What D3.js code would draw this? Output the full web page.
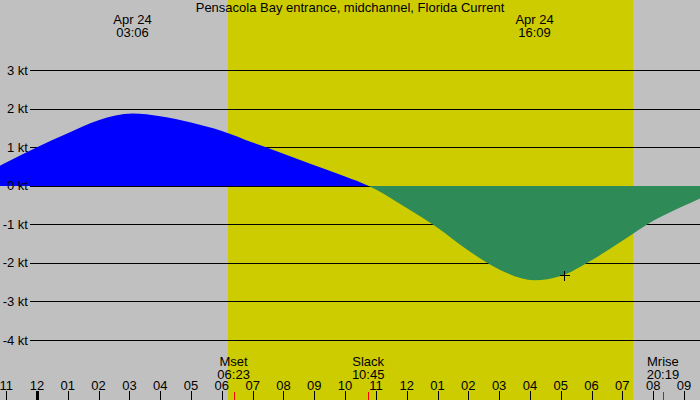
<!DOCTYPE html>
<html>
<head>
<meta charset="utf-8">
<script src="https://cdn.jsdelivr.net/npm/d3@7"></script>
<style>
  body { margin: 0; background: #fff; }
  svg { display: block; }
  text { font-family: "Liberation Sans", Arial, sans-serif; font-size: 13px; fill: #000; }
</style>
</head>
<body>
<div id="chart"></div>
<script>
// Tidal current readings, hours after midnight Apr 24 (negative = previous day)
const hours  = [-1.2, -1, 0, 1, 2, 3.1, 4, 5, 6, 7, 8, 9, 10, 10.75, 11, 12, 13, 14, 15, 16.15, 17, 18, 19, 20, 21, 21.52];
const speeds = [0.52, 0.6, 1.0, 1.36, 1.70, 1.87, 1.80, 1.64, 1.42, 1.12, 0.83, 0.53, 0.24, 0, -0.1, -0.58, -1.09, -1.68, -2.17, -2.45, -2.34, -1.93, -1.43, -0.91, -0.52, -0.33];

const knotTicks = [-4, -3, -2, -1, 0, 1, 2, 3];
const hourTicks = [-1, 0, 1, 2, 3, 4, 5, 6, 7, 8, 9, 10, 11, 12, 13, 14, 15, 16, 17, 18, 19, 20, 21];
const hourLabels = ['11', '12', '01', '02', '03', '04', '05', '06', '07', '08', '09', '10',
                    '11', '12', '01', '02', '03', '04', '05', '06', '07', '08', '09'];

const sunrise = 6.2;
const sunset = 19.35;

// max / min current labels at top
const peakTimes  = [3.1, 16.15];
const peakLabels = [['Apr 24', '03:06'], ['Apr 24', '16:09']];

// events at the bottom (moon set, slack, moon rise)
const eventTimes  = [6.383, 10.75, 20.317];
const eventLabels = [['Mset', '06:23'], ['Slack', '10:45'], ['Mrise', '20:19']];

// "now" marker
const nowTime = 17.12;
const nowSpeed = -2.31;

const title = 'Pensacola Bay entrance, midchannel, Florida Current';

const W = 700, H = 400;

const x = d3.scaleLinear().domain([-1.2, 21.52]).range([0, W]);
const y = d3.scaleLinear().domain([-4, 3]).range([340, 70]);
const zeroY = Math.round(y(0));

const svg = d3.select('#chart').append('svg')
    .attr('width', W)
    .attr('height', H);

// night background + daylight band
svg.append('rect')
    .attr('width', W).attr('height', H)
    .attr('fill', '#c0c0c0');
svg.append('rect')
    .attr('x', x(sunrise)).attr('y', 0)
    .attr('width', x(sunset) - x(sunrise)).attr('height', H)
    .attr('fill', '#cccc00');

// horizontal grid
svg.append('g')
    .selectAll('line')
    .data(knotTicks)
    .join('line')
    .attr('x1', 30).attr('x2', W)
    .attr('y1', d => Math.round(y(d)) + 0.5)
    .attr('y2', d => Math.round(y(d)) + 0.5)
    .attr('stroke', '#000')
    .attr('stroke-width', 1)
    .attr('shape-rendering', 'crispEdges');

// current area, split into flood (blue) and ebb (green) by clipping at zero
const pts = hours.map((h, i) => [h, speeds[i]]);
const area = d3.area()
    .x(d => x(d[0]))
    .y0(zeroY)
    .y1(d => y(d[1]))
    .curve(d3.curveMonotoneX);

const defs = svg.append('defs');
defs.append('clipPath').attr('id', 'clip-flood')
    .append('rect').attr('x', 0).attr('y', 0).attr('width', W).attr('height', zeroY);
defs.append('clipPath').attr('id', 'clip-ebb')
    .append('rect').attr('x', 0).attr('y', zeroY).attr('width', W).attr('height', H - zeroY);

svg.append('path')
    .datum(pts)
    .attr('d', area)
    .attr('fill', '#2e8b57')
    .attr('clip-path', 'url(#clip-ebb)');
svg.append('path')
    .datum(pts)
    .attr('d', area)
    .attr('fill', '#0000ff')
    .attr('clip-path', 'url(#clip-flood)');

// y labels
svg.append('g')
    .selectAll('text')
    .data(knotTicks)
    .join('text')
    .attr('x', 28)
    .attr('y', d => y(d))
    .attr('dy', '0.35em')
    .attr('text-anchor', 'end')
    .text(d => d + ' kt');

// title
svg.append('text')
    .attr('x', W / 2).attr('y', 12)
    .attr('text-anchor', 'middle')
    .text(title);

// two-line label helper (one text node, two tspans)
function twoLine(cx, y0, lines) {
    const t = svg.append('text').attr('text-anchor', 'middle');
    t.append('tspan').attr('x', cx).attr('y', y0).text(lines[0]);
    t.append('tspan').attr('x', cx).attr('y', y0 + 13).text(lines[1]);
}

peakTimes.forEach((t, i) => twoLine(x(t), 24, peakLabels[i]));

// event labels + red ticks
eventTimes.forEach((t, i) => {
    twoLine(x(t), 365.5, eventLabels[i]);
    svg.append('line')
        .attr('x1', Math.round(x(t)) + 0.5).attr('x2', Math.round(x(t)) + 0.5)
        .attr('y1', 392).attr('y2', H)
        .attr('stroke', '#ff0000')
        .attr('shape-rendering', 'crispEdges');
});

// hour axis
const hx = svg.append('g');
hx.selectAll('line')
    .data(hourTicks)
    .join('line')
    .attr('x1', d => Math.round(x(d)) + 0.5)
    .attr('x2', d => Math.round(x(d)) + 0.5)
    .attr('y1', 391).attr('y2', H)
    .attr('stroke', '#000')
    .attr('stroke-width', d => d === 0 ? 3 : 1)
    .attr('shape-rendering', 'crispEdges');
hx.selectAll('text')
    .data(hourTicks)
    .join('text')
    .attr('x', d => x(d))
    .attr('y', 390)
    .attr('text-anchor', 'middle')
    .text((d, i) => hourLabels[i]);

// now marker
const nx = Math.round(x(nowTime)) + 0.5;
const ny = Math.round(y(nowSpeed)) + 0.5;
svg.append('path')
    .attr('d', `M${nx - 5},${ny}H${nx + 5}M${nx},${ny - 5}V${ny + 5}`)
    .attr('stroke', '#000')
    .attr('stroke-width', 1)
    .attr('fill', 'none')
    .attr('shape-rendering', 'crispEdges');
</script>
</body>
</html>
